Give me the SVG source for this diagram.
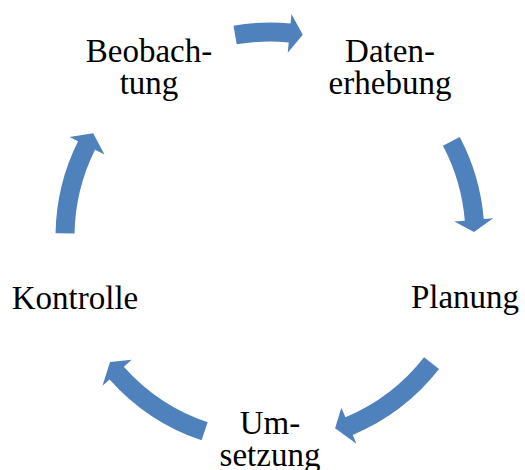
<svg xmlns="http://www.w3.org/2000/svg" width="525" height="470" viewBox="0 0 525 470">
<style>
.arrow{fill:#4F81BD;stroke:none}
.lbl{font-family:"Liberation Serif","Times New Roman",serif;font-size:33px;fill:#000;text-anchor:middle}
</style>
<rect width="525" height="470" fill="#fff"/>
<g id="connectors">
<path class="arrow" d="M233.49,25.63 A214.5,214.5 0 0 1 290.56,23.49 L291.47,14.03 L302.78,34.64 L287.73,52.85 L288.74,42.40 A195.5,195.5 0 0 0 236.72,44.35 Z"/>
<path class="arrow" d="M459.74,136.96 A214.5,214.5 0 0 1 483.75,219.05 L493.21,218.26 L473.94,232.02 L454.35,221.52 L464.81,220.64 A195.5,195.5 0 0 0 442.94,145.82 Z"/>
<path class="arrow" d="M439.03,369.06 A214.5,214.5 0 0 1 352.78,434.88 L356.44,443.65 L335.10,428.22 L341.39,407.67 L345.45,417.36 A195.5,195.5 0 0 0 424.06,357.36 Z"/>
<path class="arrow" d="M201.58,440.30 A214.5,214.5 0 0 1 109.60,379.41 L102.49,385.72 L110.03,361.98 L131.66,359.83 L123.81,366.80 A195.5,195.5 0 0 0 207.64,422.29 Z"/>
<path class="arrow" d="M55.53,233.26 A214.5,214.5 0 0 1 78.04,141.29 L69.54,137.05 L93.19,133.26 L104.44,154.45 L95.04,149.77 A195.5,195.5 0 0 0 74.53,233.59 Z"/>
</g>
<g id="beobachtung"><text class="lbl" x="149" y="62">Beobach-</text><text class="lbl" x="149" y="94">tung</text></g>
<g id="datenerhebung"><text class="lbl" x="390" y="62">Daten-</text><text class="lbl" x="390" y="94">erhebung</text></g>
<g id="planung"><text class="lbl" x="465" y="308">Planung</text></g>
<g id="umsetzung"><text class="lbl" x="270" y="434">Um-</text><text class="lbl" x="270" y="466">setzung</text></g>
<g id="kontrolle"><text class="lbl" x="75" y="309">Kontrolle</text></g>
</svg>
